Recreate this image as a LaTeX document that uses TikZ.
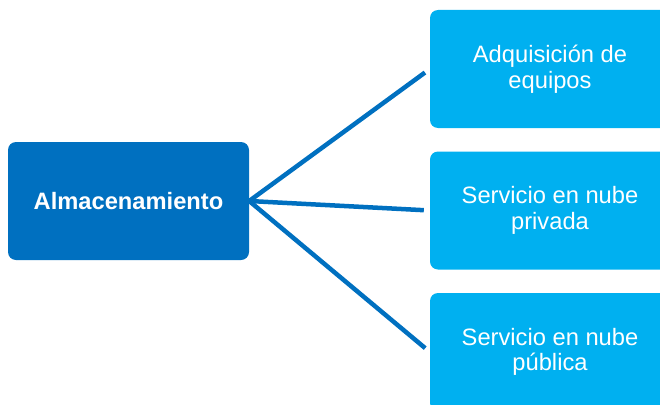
\documentclass[tikz,border=0pt]{standalone}
\usepackage{fontspec}
\setmainfont{Liberation Sans}
\usepackage{xcolor}
\usepackage{tikz}
\usetikzlibrary{
  positioning,
  calc
}
\definecolor{azulOscuro}{HTML}{0070C0}
\definecolor{azulClaro}{HTML}{00B0F0}

\begin{document}
\begin{tikzpicture}[x=1pt,y=-1pt,
  raiz/.style={fill=azulOscuro,rounded corners=8pt,minimum width=241pt,minimum height=118pt,
    text=white,font=\fontsize{23.7}{25.5}\selectfont\bfseries,align=center,inner sep=0pt},
  hoja/.style={fill=azulClaro,rounded corners=8pt,minimum width=240pt,minimum height=118pt,
    text=white,font=\fontsize{23.7}{25.5}\selectfont,align=center,inner sep=0pt},
  rama/.style={draw=azulOscuro,line width=4.5pt,shorten >=6pt}]
  % recorte al tamano de la figura
  \clip (0,0) rectangle (660,404);

  % nodo principal
  \node[raiz] (alm) at (128.5,201) {Almacenamiento};

  % las tres opciones a la derecha
  \node[hoja] (H_1) at (550,69) {Adquisición de\\equipos};
  \node[hoja] (H_2) at (550,210.5) {Servicio en nube\\privada};
  \node[hoja] (H_3) at (550,352) {Servicio en nube\\pública};

  % ramas desde el nodo principal
  \foreach \k in {1,2,3}
  \draw[rama] (alm.east) -- (H_\k.west);
\end{tikzpicture}
\end{document}
